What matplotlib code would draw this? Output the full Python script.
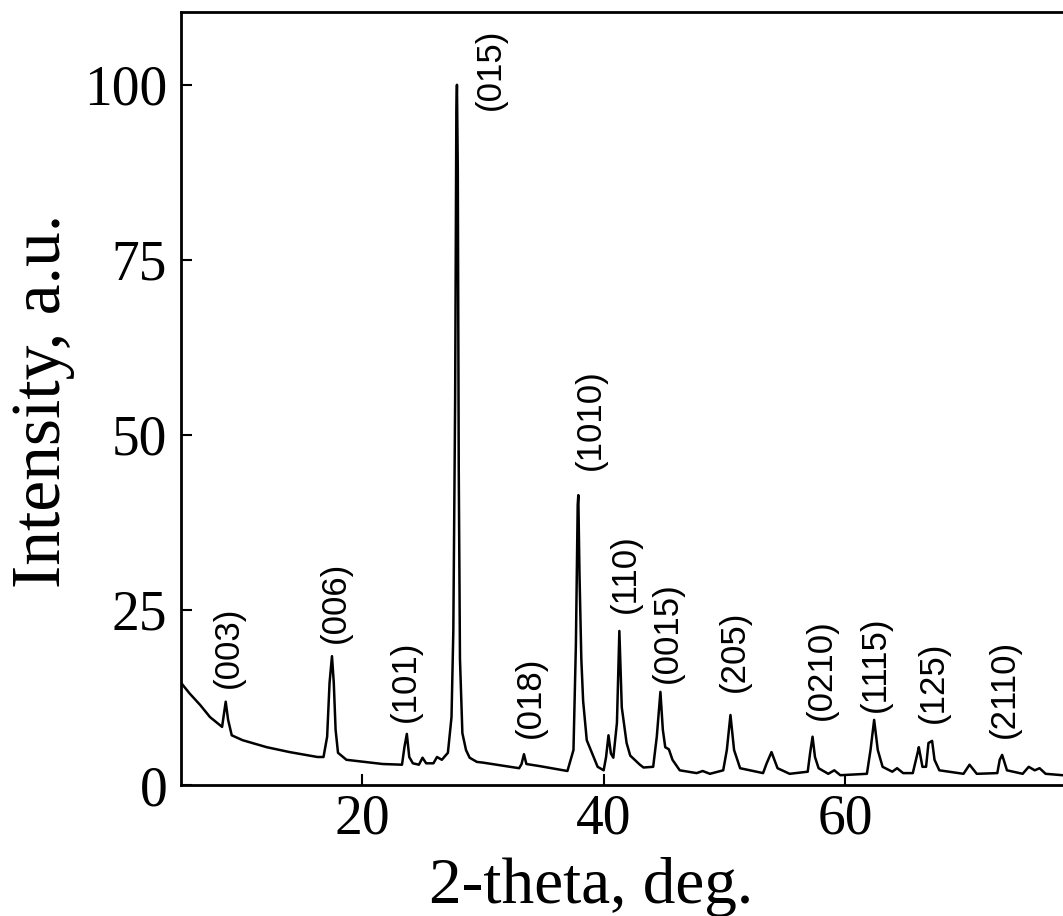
import matplotlib
matplotlib.use("Agg")
import matplotlib.pyplot as plt

# XRD pattern, points
two_theta = [5.0, 5.7, 6.6, 7.4, 8.4, 8.6, 8.7, 8.9, 9.2, 10.1, 12.1, 14.0,
             16.3, 16.8, 17.1, 17.3, 17.5, 17.65, 17.8, 18.0, 18.7, 21.7, 23.3,
             23.5, 23.7, 23.9, 24.2, 24.7, 25.0, 25.3, 25.9, 26.2, 26.6, 27.1,
             27.4, 27.55, 27.7, 27.8, 27.85, 27.92, 28.0, 28.1, 28.3, 28.6, 28.9,
             29.5, 30.0, 33.0, 33.2, 33.4, 33.6, 34.7, 37.0, 37.5, 37.7, 37.85,
             37.9, 38.0, 38.15, 38.3, 38.6, 39.5, 40.0, 40.2, 40.4, 40.6, 40.8,
             41.1, 41.3, 41.5, 41.9, 42.2, 43.0, 43.3, 44.1, 44.4, 44.7, 44.9,
             45.1, 45.4, 45.7, 46.3, 47.7, 48.2, 48.8, 49.9, 50.2, 50.5, 50.8,
             51.3, 53.2, 53.5, 53.9, 54.4, 55.4, 56.9, 57.1, 57.3, 57.5, 57.8,
             58.6, 59.1, 59.6, 61.8, 62.1, 62.4, 62.7, 63.1, 63.9, 64.3, 64.8,
             65.6, 66.0, 66.1, 66.4, 66.7, 66.9, 67.2, 67.4, 67.8, 69.8, 70.3,
             70.9, 72.6, 72.8, 73.0, 73.4, 74.7, 75.2, 75.7, 76.1, 76.6, 78.0]
intensity = [14.6, 13.1, 11.4, 9.7, 8.3, 10.7, 11.9, 9.3, 7.1, 6.4, 5.4, 4.7,
             4.0, 4.0, 6.9, 14.6, 18.4, 14.6, 7.9, 4.6, 3.6, 3.0, 2.9,
             5.4, 7.3, 4.0, 3.1, 2.9, 3.9, 3.1, 3.1, 4.0, 3.6, 4.6,
             9.7, 22.0, 55.0, 96.0, 100.0, 88.0, 45.0, 18.0, 7.4, 5.0, 3.9,
             3.3, 3.2, 2.4, 3.0, 4.4, 3.0, 2.7, 2.0, 5.0, 20.0, 40.0,
             41.4, 30.0, 18.0, 12.0, 6.4, 2.6, 2.1, 4.0, 7.1, 4.5, 3.9,
             8.9, 22.0, 11.1, 6.0, 4.2, 2.9, 2.5, 2.6, 6.9, 13.3, 7.9,
             5.4, 5.1, 3.6, 2.1, 1.7, 2.0, 1.6, 2.1, 5.0, 10.0, 5.0,
             2.4, 1.7, 3.1, 4.7, 2.4, 1.6, 1.9, 4.6, 6.9, 4.0, 2.4,
             1.6, 2.1, 1.4, 1.6, 5.0, 9.3, 5.0, 2.6, 1.9, 2.4, 1.7,
             1.7, 4.6, 5.4, 2.6, 2.6, 6.0, 6.3, 3.6, 2.1, 1.6, 2.9,
             1.6, 1.7, 3.6, 4.3, 2.1, 1.6, 2.6, 2.1, 2.4, 1.6, 1.4]

# peak labels: text, x centre and bottom of the rotated text (data units)
hkl = ["(003)", "(006)", "(101)", "(015)", "(018)", "(1010)", "(110)",
       "(0015)", "(205)", "(0210)", "(1115)", "(125)", "(2110)"]
label_x = [8.9, 17.75, 23.55, 30.6, 33.9, 38.9, 41.8, 45.3, 50.8, 58.0, 62.5, 67.3, 73.2]
label_y = [13.9, 20.3, 9.0, 96.4, 6.7, 45.0, 24.6, 14.6, 13.3, 9.3, 10.4, 8.9, 6.7]

xticks = [20, 40, 60]
yticks = [0, 25, 50, 75, 100]

fig = plt.figure(figsize=(10.63, 9.16), dpi=100)
ax = fig.add_axes([0.1703, 0.1430, 0.8297, 0.8439])

ax.plot(two_theta, intensity, color="black", lw=1.8)

for t, x, y in zip(hkl, label_x, label_y):
    ax.text(x, y, t, rotation=90, ha="center", va="bottom",
            fontsize=25, family="Liberation Sans")

ax.set_xlim(5, 78.04)
ax.set_ylim(0, 110.4)
ax.set_xticks(xticks)
ax.set_yticks(yticks)
ax.tick_params(direction="in", length=8, width=1.5, pad=6,
               labelsize=40)
ax.tick_params(axis="y", pad=10)
for lab in ax.get_xticklabels() + ax.get_yticklabels():
    lab.set_family("Liberation Serif")

ax.spines["right"].set_visible(False)
for s in ["left", "top", "bottom"]:
    ax.spines[s].set_linewidth(2)

fig.text(591 / 1063, 1 - 903 / 916, "2-theta, deg.", ha="center", va="baseline",
         fontsize=47, family="Liberation Serif")
fig.text(60 / 1063, 1 - 401 / 916, "Intensity, a.u.", rotation=90,
         rotation_mode="anchor", ha="center", va="baseline",
         fontsize=50, family="Liberation Serif")

fig.savefig("out.png", dpi=100)
